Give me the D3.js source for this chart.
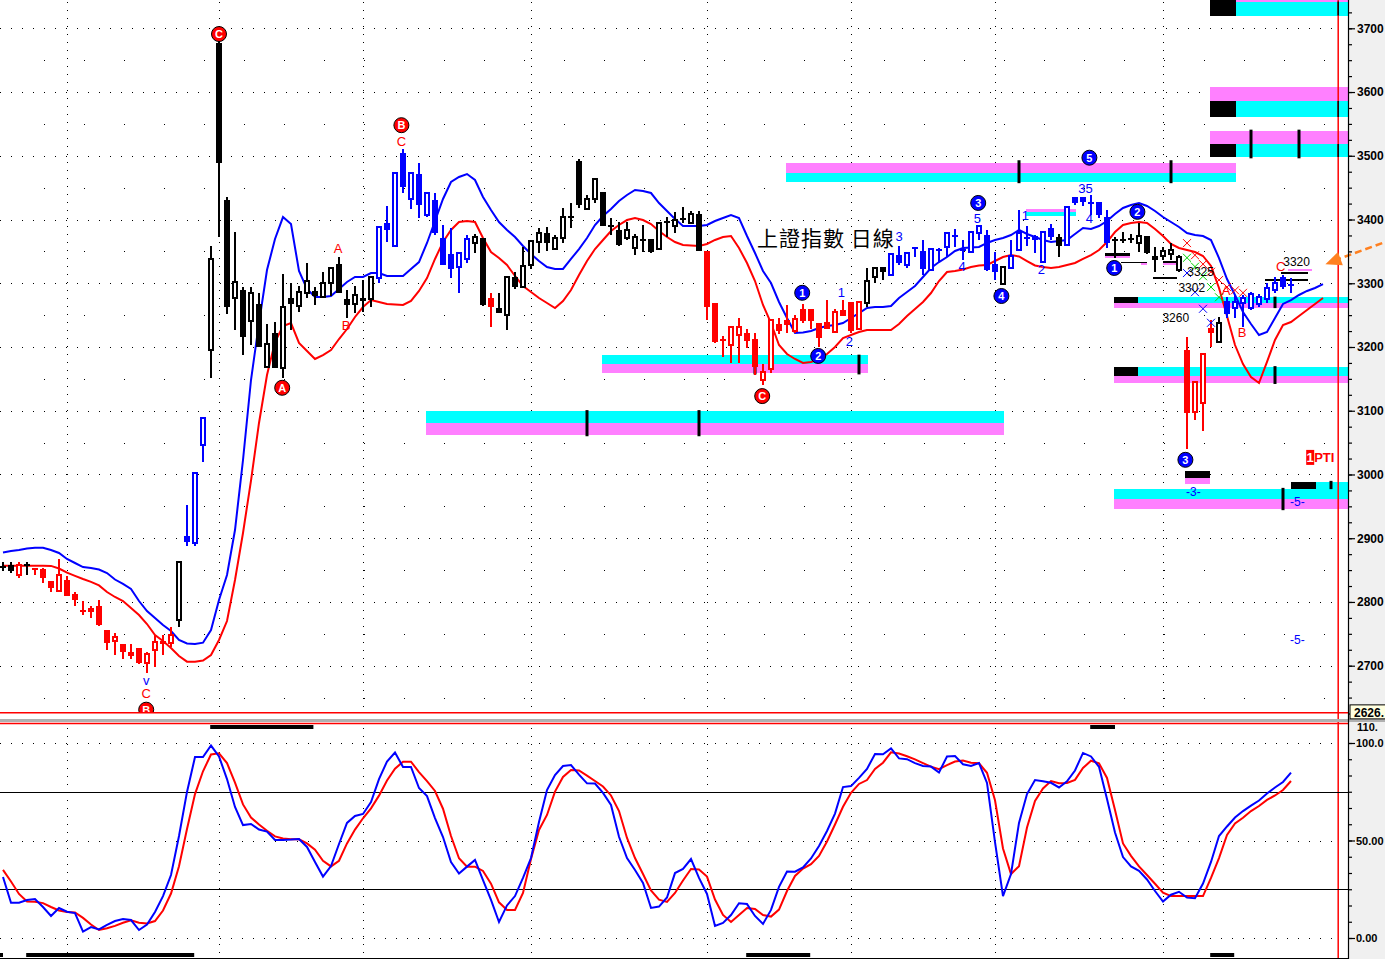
<!DOCTYPE html>
<html><head><meta charset="utf-8">
<script src="https://cdn.jsdelivr.net/npm/d3@7/dist/d3.min.js"></script>
<style>html,body{margin:0;padding:0;background:#fff;overflow:hidden}svg{display:block;font-family:"Liberation Sans",Arial,sans-serif}</style>
</head><body>
<svg id="chart" width="1385" height="959"></svg>
<script>
// ---------- DATA ----------
const openP=[2855,2858,2843,2858,2851,2851,2833,2817,2834,2812,
2786,2790,2794,2756,2738,2734,2722,2728,2704,2724,
2739,2736,2771,2904,2893,3046,3195,3677,3431,3277,
3289,3241,3267,3169,3222,3167,3277,3264,3285,3288,
3278,3300,3330,3275,3267,3277,3275,3308,3395,3358,
3504,3432,3471,3407,3431,3371,3346,3326,3338,3363,
3371,3277,3261,3250,3310,3294,3329,3365,3379,3354,
3371,3404,3492,3417,3432,3443,3390,3384,3371,3355,
3368,3369,3354,3396,3390,3401,3395,3409,3351,3269,
3211,3203,3219,3222,3213,3148,3166,3236,3242,3225,
3260,3260,3238,3239,3224,3258,3271,3228,3269,3310,
3326,3313,3344,3329,3355,3351,3321,3352,3357,3374,
3352,3349,3379,3376,3330,3299,3324,3352,3371,3374,
3333,3387,3373,3360,3435,3435,3426,3428,3404,3368,
3368,3369,3363,3374,3343,3343,3346,3321,3195,3098,
3112,3230,3208,3272,3261,3269,3261,3267,3275,3289,
3310,3297];
const highP=[2862,2862,2862,2862,2854,2854,2833,2867,2840,2815,
2801,2794,2803,2756,2751,2734,2734,2728,2722,2748,
2748,2760,2863,2952,3002,3089,3358,3680,3435,3380,
3294,3294,3285,3236,3239,3315,3300,3296,3332,3294,
3318,3324,3341,3289,3296,3305,3311,3388,3421,3473,
3511,3473,3489,3442,3442,3391,3387,3348,3376,3377,
3371,3285,3285,3310,3318,3357,3368,3387,3388,3376,
3418,3426,3495,3439,3464,3443,3402,3396,3396,3377,
3391,3369,3395,3404,3412,3420,3413,3413,3351,3269,
3217,3231,3246,3228,3222,3173,3244,3246,3266,3250,
3267,3260,3238,3274,3260,3274,3271,3271,3324,3326,
3326,3348,3358,3348,3357,3368,3354,3355,3379,3385,
3368,3380,3390,3384,3349,3326,3368,3415,3390,3376,
3381,3393,3377,3421,3435,3435,3439,3428,3415,3373,
3380,3377,3395,3374,3357,3357,3363,3344,3216,3145,
3189,3242,3247,3278,3282,3282,3286,3283,3300,3310,
3313,3308];
const lowP=[2849,2845,2838,2842,2842,2829,2815,2816,2809,2794,
2780,2775,2763,2725,2717,2710,2710,2703,2688,2698,
2717,2730,2760,2888,2888,3020,3151,3373,3251,3227,
3187,3203,3200,3169,3167,3151,3227,3255,3277,3266,
3277,3280,3285,3246,3253,3255,3263,3300,3365,3357,
3442,3417,3402,3404,3376,3329,3308,3285,3332,3348,
3264,3231,3253,3227,3291,3294,3322,3348,3351,3352,
3363,3387,3418,3415,3426,3390,3376,3358,3368,3344,
3349,3348,3352,3373,3379,3395,3395,3351,3242,3206,
3184,3175,3175,3198,3156,3140,3159,3220,3222,3222,
3238,3228,3200,3228,3224,3249,3222,3227,3263,3300,
3305,3311,3329,3324,3341,3313,3321,3333,3341,3357,
3337,3348,3368,3319,3305,3299,3322,3352,3358,3348,
3333,3368,3341,3360,3423,3421,3407,3402,3355,3340,
3363,3363,3349,3346,3318,3337,3337,3318,3040,3085,
3068,3200,3206,3246,3246,3231,3258,3263,3269,3285,
3291,3285];
const closeP=[2855,2848,2858,2858,2851,2837,2822,2843,2810,2803,
2786,2784,2764,2735,2745,2722,2715,2704,2718,2737,
2734,2748,2863,2894,3002,3089,3338,3489,3262,3302,
3216,3285,3200,3205,3167,3263,3267,3286,3304,3280,
3300,3324,3285,3266,3282,3272,3310,3388,3384,3473,
3451,3473,3423,3442,3379,3329,3322,3348,3369,3373,
3266,3263,3253,3310,3294,3327,3366,3379,3363,3371,
3404,3404,3423,3432,3464,3390,3390,3360,3384,3373,
3368,3349,3395,3396,3399,3401,3409,3351,3263,3208,
3211,3231,3231,3209,3169,3161,3242,3225,3235,3244,
3241,3241,3214,3228,3255,3249,3225,3271,3304,3324,
3318,3346,3332,3348,3355,3322,3354,3352,3379,3374,
3352,3380,3390,3321,3318,3326,3343,3379,3371,3368,
3380,3373,3358,3420,3426,3428,3426,3407,3363,3368,
3368,3369,3374,3348,3337,3351,3352,3341,3096,3145,
3189,3222,3238,3252,3271,3277,3283,3278,3293,3300,
3294,3297];
// trend state of each bar: k = neutral, r = down-trend, b = up-trend
const trendState=("kkrk"+"r".repeat(18)+"k"+"bbb"+"k".repeat(21)+"b".repeat(12)+"kk"+"r"+
  "k".repeat(26)+"r".repeat(20)+"kkk"+"b".repeat(14)+"k"+"b".repeat(6)+"k"+"b".repeat(6)+
  "k".repeat(9)+"rrrr"+"k"+"b".repeat(9)).split("");
const upperBand=[2877.6,2879.9,2881.5,2883.9,2885.1,2885.1,2881.5,2876.8,2867.4,2861.1,
2854.8,2853.3,2850.9,2845.4,2835.2,2828.2,2820.3,2801.5,2785.8,2774.8,
2763.8,2754.4,2740.3,2734.8,2734.0,2736.1,2756.0,2803.1,2842.3,2912.9,
3022.7,3148.2,3237.6,3320.8,3369.4,3403.9,3393.0,3319.2,3291.0,3278.4,
3278.4,3280.0,3291.0,3302.0,3309.8,3309.8,3316.1,3316.1,3311.4,3311.4,
3311.4,3322.4,3333.3,3363.2,3397.7,3432.2,3458.9,3466.7,3471.4,3462.0,
3435.3,3414.9,3396.1,3383.6,3372.6,3358.5,3345.9,3334.9,3325.5,3322.4,
3322.4,3338.1,3353.7,3371.0,3391.4,3405.5,3416.5,3429.1,3438.5,3446.3,
3444.7,3441.6,3425.9,3413.4,3400.8,3389.8,3389.8,3389.8,3391.4,3397.7,
3402.4,3407.1,3402.4,3374.1,3347.5,3319.2,3300.4,3270.6,3245.5,3222.0,
3222.7,3225.1,3229.8,3232.9,3234.5,3237.6,3245.5,3253.3,3261.2,3262.7,
3262.7,3264.3,3276.9,3286.3,3295.7,3309.8,3323.9,3333.3,3341.2,3350.6,
3355.3,3356.1,3356.9,3363.2,3367.9,3371.0,3375.7,3383.6,3377.3,3372.6,
3367.9,3364.7,3366.3,3367.9,3377.3,3386.7,3385.1,3389.8,3397.7,3408.7,
3418.1,3422.8,3425.9,3421.2,3413.4,3403.9,3396.1,3388.3,3378.8,3375.7,
3374.1,3367.9,3339.6,3306.7,3281.6,3254.9,3236.1,3218.8,3223.5,3245.5,
3267.5,3273.7,3281.6,3287.9,3292.6,3298.8];
const lowerBand=[2856.9,2856.9,2856.9,2856.9,2856.9,2856.9,2856.6,2852.5,2845.9,2841.0,
2836.0,2831.5,2826.0,2815.6,2807.8,2801.5,2790.5,2779.5,2765.4,2748.1,
2738.7,2727.8,2715.2,2706.3,2706.3,2708.1,2716.8,2740.3,2770.1,2834.4,
2908.2,2990.5,3080.8,3156.1,3207.8,3232.9,3237.6,3206.3,3193.7,3181.2,
3187.4,3195.3,3212.5,3228.2,3247.1,3262.7,3273.7,3270.6,3267.5,3266.7,
3265.9,3272.2,3287.9,3308.2,3338.1,3364.7,3383.6,3396.1,3397.7,3396.1,
3371.0,3349.0,3339.6,3328.6,3311.4,3295.7,3286.3,3276.9,3269.0,3261.2,
3272.2,3289.4,3313.0,3334.9,3353.7,3367.9,3382.0,3391.4,3399.2,3402.4,
3399.2,3393.0,3382.0,3372.6,3364.7,3360.0,3359.2,3358.5,3361.6,3367.9,
3372.6,3374.1,3355.3,3331.8,3303.5,3265.9,3237.6,3203.1,3189.0,3181.2,
3174.9,3176.5,3181.2,3189.0,3200.0,3214.1,3218.8,3223.5,3226.7,3226.7,
3226.7,3226.7,3236.1,3248.6,3259.6,3270.6,3284.7,3303.5,3317.7,3319.2,
3321.6,3325.5,3327.9,3328.6,3334.9,3341.2,3344.3,3342.0,3334.9,3327.9,
3325.5,3323.9,3325.5,3328.6,3331.8,3338.1,3344.3,3352.2,3364.7,3380.4,
3391.4,3394.5,3396.1,3394.5,3385.1,3374.1,3361.6,3355.3,3352.2,3349.0,
3342.8,3327.1,3292.6,3248.6,3203.1,3173.3,3152.9,3143.5,3176.5,3211.0,
3234.5,3239.2,3248.6,3258.0,3267.5,3276.9];
const stochK=[31.3,18.1,18.1,19.5,20.0,15.9,11.3,15.4,13.5,12.8,
3.3,5.6,4.4,6.7,8.7,9.7,9.2,4.1,6.9,13.3,
21.5,32.3,52.3,74.9,92.8,92.8,98.7,93.1,81.5,67.2,
57.9,58.5,55.6,54.6,50.3,50.3,50.5,50.8,46.7,39.0,
31.5,36.9,48.2,59.0,62.6,63.6,69.7,81.5,90.5,95.1,
87.7,87.7,76.9,72.8,61.5,51.8,39.0,33.1,36.6,40.0,
29.7,19.5,8.2,16.7,21.5,30.8,41.0,59.5,75.9,83.6,
88.2,88.7,83.8,79.3,79.2,74.4,68.2,51.9,41.0,34.9,
28.2,15.4,16.1,20.8,33.3,35.4,40.5,30.8,22.6,6.2,
7.7,11.8,17.8,17.4,11.3,7.2,14.4,26.2,34.1,34.0,
36.2,40.8,47.2,54.9,63.8,77.4,77.9,82.1,86.7,94.4,
94.2,97.2,92.1,91.7,89.7,88.2,87.9,84.9,93.1,93.3,
89.1,88.2,89.7,79.5,49.2,21.5,32.8,59.0,73.8,81.0,
80.4,79.6,77.2,80.3,85.9,94.9,93.1,87.8,71.3,54.1,
41.5,36.7,34.4,30.0,24.1,18.7,22.2,23.7,20.7,20.4,
27.9,39.0,52.3,57.2,61.8,65.1,67.9,70.5,74.1,77.2,
80.0,84.8];
const stochD=[34.9,29.0,22.6,18.7,18.6,17.9,15.9,14.1,13.3,13.1,
10.3,6.9,4.1,5.0,6.2,7.8,9.1,7.8,7.4,8.7,
14.1,22.8,36.8,55.9,73.8,85.5,94.1,94.7,89.7,79.7,
68.5,61.8,58.2,55.0,52.1,51.0,50.6,50.6,48.5,45.3,
39.6,36.7,39.6,48.5,55.6,61.4,66.5,73.0,80.8,86.8,
90.4,90.4,85.1,80.5,75.4,66.3,52.3,40.9,36.6,36.6,
34.4,27.9,18.3,14.4,14.4,23.1,40.5,55.4,63.1,75.1,
82.6,86.2,85.9,83.3,80.5,77.7,73.1,65.1,51.3,41.0,
32.8,24.4,19.7,18.5,23.1,29.5,35.4,35.1,31.5,19.7,
11.8,8.2,11.8,15.4,14.9,11.8,11.0,14.6,24.1,31.8,
35.6,37.9,42.1,49.5,58.2,67.3,74.5,79.0,81.0,86.7,
89.9,95.2,94.6,93.2,91.6,89.7,87.9,86.6,88.7,90.5,
91.0,89.9,89.6,84.7,70.6,45.9,32.8,36.8,56.7,70.3,
76.7,80.5,79.4,79.5,81.1,87.2,90.9,89.6,82.1,65.6,
48.5,42.1,36.7,32.3,27.8,23.3,21.5,21.5,21.5,21.5,
21.5,30.8,41.0,52.8,58.7,61.7,65.1,67.7,70.8,73.1,
75.9,80.5];
const priceTicks=[2700,2800,2900,3000,3100,3200,3300,3400,3500,3600,3700];
const stochTicks=[0,50,100];
const stochTickLabels=["0.00","50.00","100.0"];
const stochBands=[25,75];
const monthStartIdx=[8,27,45,66,88,106,124,145];
const todayIdx=166.9;
const lastLowMark=2626;
// support / resistance zones: from index, to index, top price, bottom price, kind (c cyan, m magenta, k black)
const zoneFrom=[150.9,154.1,154.1, 150.9,150.9,154.1, 150.9,150.9,154.1, 97.9,97.9, 74.9,74.9, 52.9,52.9,
 138.9,141.9,138.9, 138.9,141.9,138.9, 147.8,147.8, 138.9,138.9, 161,164.1, 127.9,127.9, 137.8,137.8,
 139.7,142.2, 143.8, 145,145, 157.8,159.7,160.6];
const zoneTo=[154.1,168.2,168.2, 168.2,154.1,168.2, 168.2,154.1,168.2, 154.1,154.1, 108.1,108.1, 125.1,125.1,
 141.9,168.2,168.2, 141.9,168.2,168.2, 150.9,150.9, 168.2,168.2, 164.1,168.2, 134.1,134.1, 140.9,140.9,
 143,143, 146.8, 146.8,146.8, 163.1,163.1,163.6];
const zoneHigh=[3744,3742,3744, 3608,3586,3586, 3539,3518.5,3518.5, 3489,3473, 3187.4,3173.3, 3099.6,3080.8,
 3278.4,3278.4,3269, 3168.6,3168.6,3154.5, 3005.4,2994.5, 2977.2,2961.5, 2988.2,2988.2, 3416.5,3411.8, 3347.5,3342.8,
 3334.1,3331.7, 3309.8, 3335,3332, 3306.7,3317.7,3322.4];
const zoneLow=[3720,3720,3742, 3586,3561,3561, 3518.5,3498,3498, 3473,3459, 3173.3,3159.2, 3080.8,3061.9,
 3269,3269,3261.2, 3154.5,3154.5,3143.5, 2994.5,2985, 2961.5,2945.8, 2977.2,2977.2, 3411.8,3405.5, 3342.8,3339.6,
 3331.7,3329, 3306.7, 3332,3329, 3303.5,3314.5,3319.2];
const zoneKind=["k","c","m", "m","k","c", "m","k","c", "m","c", "c","m", "c","m",
 "k","c","m", "k","c","m", "k","m", "c","m", "k","c", "m","c", "k","m",
 "k","m", "k", "k","m", "k","k","m"];
const markIdx=[156,162,127,146,107,94,73,87,159,159,160,166];
const markHigh=[3541,3541,3493,3493,3188,3173,3101,3101,3279,3170,2979,2990];
const markLow=[3496,3496,3457,3457,3157,3157,3060,3060,3261,3142,2944,2977];
// thin dark marks where the today line crosses the upper cyan zones
const todayMarkHigh=[3742,3586,3518.5];
const todayMarkLow=[3720,3561,3498];
// wave circles
const redWaveIdx=[27,49.8,34.9,94.9,17.9];
const redWavePrice=[3691,3548,3136,3123,2631];
const redWaveText=["C","B","A","C","B"];
const blueWaveIdx=[99.9,101.9,121.9,124.8,135.8,138.9,141.8,147.8];
const blueWavePrice=[3285,3186,3426,3280,3497,3324,3412,3023];
const blueWaveText=["1","2","3","4","5","1","2","3"];
// small text labels
const labelIdx=[41.9,42.9,49.8,17.9,17.9,104.8,105.8,112.0,119.9,121.8,127.8,129.8,135.3,135.8,152.9,154.9,159.7,149.7,148.6,146.6,161.7,148.8,161.8,161.8];
const labelPrice=[3354,3234,3522,2676,2656,3286,3208,3373,3326,3402,3406,3321,3449,3402,3289,3222,3327,3318,3292,3246,3333,2972,2957,2740];
const labelText=["A","B","C","v","C","1","2","3","4","5","1","2","35","4","A","B","C","3325","3302","3260","3320","-3-","-5-","-5-"];
const labelTone=["r","r","r","b","r","b","b","b","b","b","b","b","b","b","r","r","r","k","k","k","k","b","b","b"];
// projection crosses
const redCrossIdx=[148,149,150,151,152,153,154,155];
const redCrossPrice=[3363,3344,3330,3318,3305,3294,3289,3285];
const greenCrossIdx=[148,149,150,151,152];
const greenCrossPrice=[3340,3326,3311,3294,3278];
const blueCrossIdx=[148,149,150,151];
const blueCrossPrice=[3316,3286,3260,3238];
// period bars in the oscillator pane
const topBarFrom=[25.9,135.9], topBarTo=[38.8,139];
const botBarFrom=[-0.5,2.9,92.9,150.9], botBarTo=[0,23.9,100.9,153.9];

// ---------- DRAW ----------
const svg=d3.select("#chart");
const COL={k:"#000000",r:"#ff0000",b:"#0000ff",c:"#00ffff",m:"#ff80ff",g:"#00c000"};
const x=d3.scaleLinear().domain([0,165]).range([3,1323]);
const yP=d3.scaleLinear().domain([2700,3700]).range([665.7,28.3]);
const yS=d3.scaleLinear().domain([0,100]).range([938,743]);
const PLOT_R=1348;

const defs=svg.append("defs");
defs.append("clipPath").attr("id","cm").append("rect").attr("x",0).attr("y",0).attr("width",PLOT_R).attr("height",712);
defs.append("clipPath").attr("id","cs").append("rect").attr("x",0).attr("y",724).attr("width",PLOT_R).attr("height",234);
defs.append("clipPath").attr("id","ca").append("rect").attr("x",1349).attr("y",722).attr("width",36).attr("height",237);

// right axis background
svg.append("rect").attr("x",1349).attr("y",0).attr("width",36).attr("height",959).attr("fill","#f0f0f0");

// grid
const grid=svg.append("g");
priceTicks.forEach(p=>grid.append("line").attr("x1",0).attr("x2",1338).attr("y1",Math.round(yP(p))+0.5).attr("y2",Math.round(yP(p))+0.5)
  .attr("stroke","#000").attr("stroke-dasharray","1,10"));
d3.range(2650,3700,100).forEach(p=>grid.append("line").attr("x1",44).attr("x2",1338).attr("y1",Math.round(yP(p))+0.5).attr("y2",Math.round(yP(p))+0.5)
  .attr("stroke","#000").attr("stroke-dasharray","1,39"));
stochTicks.forEach(v=>grid.append("line").attr("x1",0).attr("x2",1338).attr("y1",Math.round(yS(v))+0.5).attr("y2",Math.round(yS(v))+0.5)
  .attr("stroke","#000").attr("stroke-dasharray","1,10"));
monthStartIdx.forEach(i=>{
  grid.append("line").attr("x1",x(i)+0.5).attr("x2",x(i)+0.5).attr("y1",2).attr("y2",712).attr("stroke","#000").attr("stroke-dasharray","1,7");
  grid.append("line").attr("x1",x(i)+0.5).attr("x2",x(i)+0.5).attr("y1",728).attr("y2",958).attr("stroke","#000").attr("stroke-dasharray","1,7");
});

// zones
const gz=svg.append("g").attr("clip-path","url(#cm)");
zoneKind.forEach((k,j)=>{
  gz.append("rect").attr("x",x(zoneFrom[j])).attr("width",x(zoneTo[j])-x(zoneFrom[j]))
    .attr("y",yP(zoneHigh[j])).attr("height",Math.max(1.5,yP(zoneLow[j])-yP(zoneHigh[j])))
    .attr("fill",COL[k]).attr("shape-rendering","crispEdges");
});

// today marker line
svg.append("line").attr("x1",x(todayIdx)).attr("x2",x(todayIdx)).attr("y1",0).attr("y2",959).attr("stroke","#ff0000").attr("stroke-width",1.5);
todayMarkHigh.forEach((h,j)=>svg.append("line").attr("x1",x(todayIdx)).attr("x2",x(todayIdx)).attr("y1",yP(h)).attr("y2",yP(todayMarkLow[j]))
  .attr("stroke","#000").attr("stroke-width",1.5));
markIdx.forEach((i,j)=>svg.append("line").attr("x1",x(i)).attr("x2",x(i)).attr("y1",yP(markHigh[j])).attr("y2",yP(markLow[j]))
  .attr("stroke","#000").attr("stroke-width",3));

// bands
const gm=svg.append("g").attr("clip-path","url(#cm)");
const lineP=d3.line().x((d,i)=>x(i)).y(d=>yP(d));
gm.append("path").attr("d",lineP(upperBand)).attr("fill","none").attr("stroke","#0000ff").attr("stroke-width",2);
gm.append("path").attr("d",lineP(lowerBand)).attr("fill","none").attr("stroke","#ff0000").attr("stroke-width",2);

// candles
const idx=d3.range(openP.length);
gm.selectAll("line.wick").data(idx).join("line").attr("class","wick")
  .attr("x1",i=>x(i)).attr("x2",i=>x(i)).attr("y1",i=>yP(highP[i])).attr("y2",i=>yP(lowP[i]))
  .attr("stroke",i=>COL[trendState[i]]).attr("stroke-width",2).attr("shape-rendering","crispEdges");
idx.forEach(i=>{
  const o=openP[i],c=closeP[i],col=COL[trendState[i]];
  if(o===c){
    gm.append("line").attr("x1",x(i)-3).attr("x2",x(i)+3).attr("y1",yP(o)).attr("y2",yP(o)).attr("stroke",col).attr("stroke-width",2).attr("shape-rendering","crispEdges");
  } else if(c>o){
    gm.append("rect").attr("x",x(i)-2).attr("width",4).attr("y",yP(c)).attr("height",Math.max(1,yP(o)-yP(c)))
      .attr("fill","#fff").attr("stroke",col).attr("stroke-width",2).attr("shape-rendering","crispEdges");
  } else {
    gm.append("rect").attr("x",x(i)-3).attr("width",6).attr("y",yP(o)).attr("height",Math.max(2,yP(c)-yP(o)))
      .attr("fill",col).attr("shape-rendering","crispEdges");
  }
});

// projection crosses
function crosses(ix,pr,color){
  ix.forEach((i,j)=>{const cx=x(i),cy=yP(pr[j]);
    gm.append("path").attr("d",`M${cx-4},${cy-4}L${cx+4},${cy+4}M${cx-4},${cy+4}L${cx+4},${cy-4}`).attr("stroke",color).attr("stroke-width",1);});
}
crosses(redCrossIdx,redCrossPrice,"#ff0000");
crosses(greenCrossIdx,greenCrossPrice,"#00d000");
crosses(blueCrossIdx,blueCrossPrice,"#0000ff");

// labels
labelText.forEach((t,j)=>{
  gm.append("text").attr("x",x(labelIdx[j])).attr("y",yP(labelPrice[j])).attr("text-anchor","middle").attr("dominant-baseline","central")
   .attr("font-size",t.length>2?12:13).attr("fill",COL[labelTone[j]]).text(t);
});
// wave circles
function waves(ix,pr,tx,color){
  ix.forEach((i,j)=>{const g=gm.append("g").attr("transform",`translate(${x(i)},${yP(pr[j])})`);
    g.append("circle").attr("r",7.5).attr("fill",color).attr("stroke","#000").attr("stroke-width",1);
    g.append("text").attr("text-anchor","middle").attr("dominant-baseline","central").attr("font-size",11).attr("font-weight","bold").attr("fill","#fff").text(tx[j]);});
}
waves(redWaveIdx,redWavePrice,redWaveText,"#ff0000");
waves(blueWaveIdx,blueWavePrice,blueWaveText,"#0000ff");

// title
svg.append("text").attr("x",757).attr("y",246).attr("font-family","'Noto Sans CJK TC','Noto Sans CJK SC',sans-serif")
  .attr("font-size",21).attr("letter-spacing",1).attr("fill","#000").text("上證指數 日線");

// 1PTI
const pti=svg.append("g").attr("transform",`translate(${x(162.9)},${yP(3026)})`);
pti.append("rect").attr("x",0).attr("y",-8).attr("width",8).attr("height",15).attr("fill","#ff0000");
pti.append("text").attr("x",4).attr("y",0).attr("text-anchor","middle").attr("dominant-baseline","central").attr("font-size",13).attr("font-weight","bold").attr("fill","#fff").text("1");
pti.append("text").attr("x",8).attr("y",0).attr("dominant-baseline","central").attr("font-size",13).attr("font-weight","bold").attr("fill","#ff0000").text("PTI");

// orange arrow
const ax0=x(172.4),ay0=yP(3363),ax1=x(165.3),ay1=yP(3330);
svg.append("line").attr("x1",ax0).attr("y1",ay0).attr("x2",ax1+10).attr("y2",ay1-4).attr("stroke","#ff8020").attr("stroke-width",2.5).attr("stroke-dasharray","7,4");
const ang=Math.atan2(ay1-ay0,ax1-ax0);
const hx=ax1,hy=ay1,L=16,Wd=7;
const bx=hx-L*Math.cos(ang),by=hy-L*Math.sin(ang);
svg.append("path").attr("d",`M${hx},${hy}L${bx-Wd*Math.sin(ang)},${by+Wd*Math.cos(ang)}L${bx+Wd*Math.sin(ang)},${by-Wd*Math.cos(ang)}Z`).attr("fill","#ff8020");

// 2626 line and separators
svg.append("line").attr("x1",0).attr("x2",PLOT_R).attr("y1",yP(lastLowMark)).attr("y2",yP(lastLowMark)).attr("stroke","#ff0000").attr("stroke-width",1.5);
svg.append("rect").attr("x",0).attr("y",719).attr("width",1385).attr("height",3).attr("fill","#b0b0b0");
svg.append("line").attr("x1",0).attr("x2",PLOT_R).attr("y1",723.5).attr("y2",723.5).attr("stroke","#ff0000").attr("stroke-width",1.5);

// oscillator
const gs=svg.append("g").attr("clip-path","url(#cs)");
stochBands.forEach(v=>gs.append("line").attr("x1",0).attr("x2",PLOT_R).attr("y1",Math.round(yS(v))+0.5).attr("y2",Math.round(yS(v))+0.5).attr("stroke","#000").attr("stroke-width",1));
const lineS=d3.line().x((d,i)=>x(i)).y(d=>yS(d));
gs.append("path").attr("d",lineS(stochD)).attr("fill","none").attr("stroke","#ff0000").attr("stroke-width",2);
gs.append("path").attr("d",lineS(stochK)).attr("fill","none").attr("stroke","#0000ff").attr("stroke-width",2);
topBarFrom.forEach((f,j)=>svg.append("rect").attr("x",x(f)).attr("width",x(topBarTo[j])-x(f)).attr("y",725).attr("height",4).attr("fill","#000"));
botBarFrom.forEach((f,j)=>svg.append("rect").attr("x",Math.max(0,x(f))).attr("width",x(botBarTo[j])-Math.max(0,x(f))).attr("y",953).attr("height",4).attr("fill","#000"));
svg.append("line").attr("x1",0).attr("x2",PLOT_R).attr("y1",958.5).attr("y2",958.5).attr("stroke","#000");

// axes
svg.append("line").attr("x1",PLOT_R+0.5).attr("x2",PLOT_R+0.5).attr("y1",0).attr("y2",959).attr("stroke","#000").attr("stroke-width",1.2);
const fontAx=(g,fs)=>g.selectAll("text").attr("font-size",fs).attr("font-weight","bold").attr("fill","#000").attr("font-family","'Liberation Sans',Arial,sans-serif");
const gAx=svg.append("g").attr("transform",`translate(${PLOT_R+1},0)`).call(d3.axisRight(yP).tickValues(priceTicks).tickSize(6).tickPadding(2).tickFormat(d3.format("d")));
fontAx(gAx,12); gAx.select(".domain").remove();
const gAxm=svg.append("g").attr("transform",`translate(${PLOT_R+1},0)`).call(d3.axisRight(yP).tickValues(d3.range(2625,3726,25)).tickSize(3).tickFormat(""));
gAxm.select(".domain").remove();
const gAs=svg.append("g").attr("transform",`translate(${PLOT_R+1},0)`).call(d3.axisRight(yS).tickValues(stochTicks).tickSize(6).tickPadding(1).tickFormat((d,i)=>stochTickLabels[i]));
fontAx(gAs,11); gAs.select(".domain").remove();
const gAsm=svg.append("g").attr("transform",`translate(${PLOT_R+1},0)`).call(d3.axisRight(yS).tickValues(d3.range(0,101,100/12)).tickSize(3).tickFormat(""));
gAsm.select(".domain").remove();
svg.selectAll(".tick line").attr("stroke","#000").attr("stroke-width",1.2);

// last-low box and clipped top label of the oscillator scale
const bx2=svg.append("g").attr("transform",`translate(1350,${yP(lastLowMark)-1})`);
bx2.append("rect").attr("x",0).attr("y",-7).attr("width",36).attr("height",14).attr("fill","#ffffe0").attr("stroke","#000");
bx2.append("text").attr("x",4).attr("y",1).attr("dominant-baseline","central").attr("font-size",12).attr("font-weight","bold").text(lastLowMark+".");
svg.append("g").attr("clip-path","url(#ca)").append("text").attr("x",1357).attr("y",731).attr("font-size",11).attr("font-weight","bold").text("110.");
</script>
</body></html>
